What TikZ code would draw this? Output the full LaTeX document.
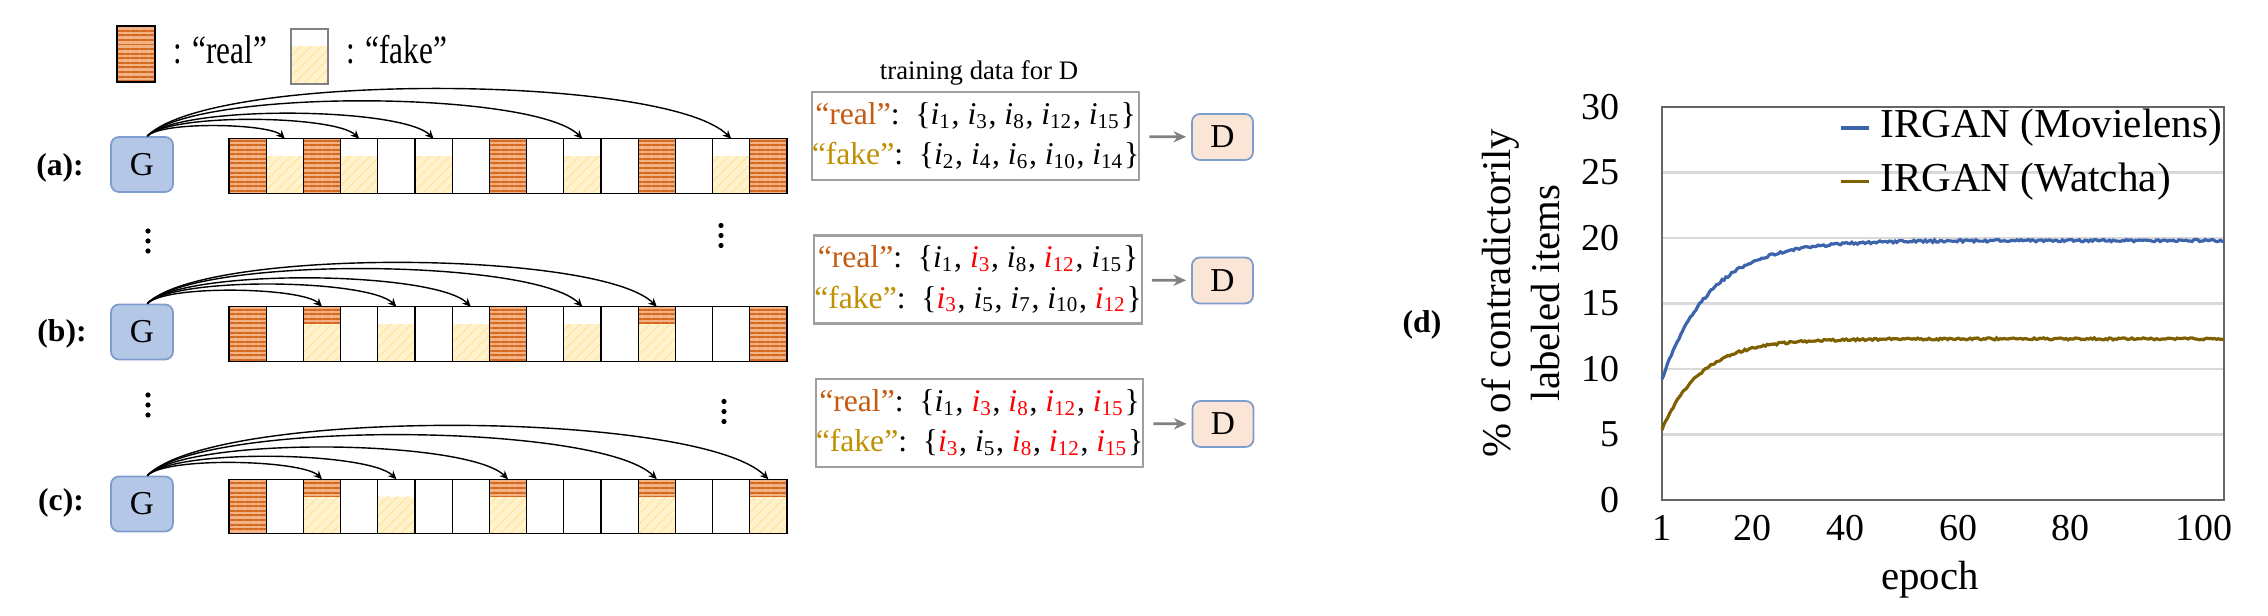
\documentclass[tikz,border=0pt]{standalone}
\usepackage{fontspec}
\setmainfont{Liberation Serif}
\usepackage{graphicx}
\usepackage{tikz}
\usetikzlibrary{arrows.meta, patterns.meta}

\definecolor{realtext}{HTML}{C55A11}
\definecolor{faketext}{HTML}{BF9000}
\definecolor{reallight}{HTML}{F4B183}
\definecolor{realdark}{HTML}{D2691E}
\definecolor{fakelight}{HTML}{FFF2CC}
\definecolor{fakeline}{HTML}{FFE49A}
\definecolor{gfill}{HTML}{B4C7E7}
\definecolor{dfill}{HTML}{FBE5D6}
\definecolor{boxedge}{HTML}{7F9CCF}
\definecolor{lensblue}{HTML}{3B64AD}
\definecolor{watchabrown}{HTML}{7F6000}
\definecolor{gridgray}{HTML}{D9D9D9}

\newcommand{\itm}[1]{\textit{i}\textsubscript{#1}}
\newcommand{\ritm}[1]{\textcolor{red}{\itm{#1}}}

\tikzset{
  realfill/.style={preaction={fill=reallight}, pattern={Lines[distance=1.3pt, line width=0.55pt]}, pattern color=realdark},
  fakefill/.style={preaction={fill=fakelight}, pattern={Lines[angle=45, distance=2pt, line width=0.3pt]}, pattern color=fakeline},
  itemcell/.style={draw, line width=0.35pt, minimum width=0.372cm, minimum height=0.545cm, inner sep=0pt, outer sep=0pt},
  emptycell/.style={},
  realcell/.style={path picture={
      \fill[realfill] (path picture bounding box.south west) rectangle (path picture bounding box.north east);}},
  fakecell/.style={path picture={
      \fill[fakefill] (path picture bounding box.south west) rectangle ([yshift=-0.175cm]path picture bounding box.north east);}},
  mixcell/.style={path picture={
      \fill[fakefill] (path picture bounding box.south west) rectangle ([yshift=-0.175cm]path picture bounding box.north east);
      \fill[realfill] ([yshift=-0.175cm]path picture bounding box.north west) rectangle (path picture bounding box.north east);}},
  gbox/.style={draw=boxedge, fill=gfill, line width=0.5pt, rounded corners=0.08cm, minimum width=0.62cm, minimum height=0.55cm, font=\fontsize{9.5}{10}\selectfont},
  dbox/.style={draw=boxedge, fill=dfill, line width=0.5pt, rounded corners=0.08cm, minimum width=0.61cm, minimum height=0.46cm, font=\fontsize{9.5}{10}\selectfont},
  databox/.style={draw=gray!75, line width=0.6pt, minimum width=3.27cm, minimum height=0.88cm, inner sep=0pt, align=center, font=\fontsize{9}{11.4}\selectfont},
  rowlab/.style={font=\fontsize{9}{10}\selectfont\bfseries},
  legtext/.style={anchor=west, font=\fontsize{11.4}{12}\selectfont},
  genarc/.style={-{Stealth[length=2.4pt, width=2.2pt]}, line width=0.4pt, out=45, in=135, looseness=0.4},
  feed/.style={-{Stealth[length=3.6pt, width=3.2pt]}, draw=gray, line width=0.8pt, shorten <=0.09cm, shorten >=0.05cm},
  ticklab/.style={font=\fontsize{10.8}{12}\selectfont},
  chartlab/.style={font=\fontsize{11.6}{14}\selectfont},
}

\begin{document}
\begin{tikzpicture}[x=0.01cm, y=0.01cm]
\useasboundingbox (0,0) rectangle (2268,616);

% legend
\node[itemcell, realcell, minimum width=0.38cm, minimum height=0.56cm] (legreal) at (136,562) {};
\node[legtext] (legrealtxt) at (161,566) {\scalebox{0.78}[1]{: “real”}};
\node[itemcell, fakecell, draw=gray, minimum width=0.37cm, minimum height=0.55cm] (legfake) at (309.5,559.5) {};
\node[legtext] (legfaketxt) at (334,566) {\scalebox{0.78}[1]{: “fake”}};

% row (a)
\node[rowlab] (laba) at (60,448) {(a):};
\node[gbox] (Ga) at (142,451.5) {G};
\foreach \i/\k in {1/realcell,2/fakecell,3/realcell,4/fakecell,5/emptycell,6/fakecell,7/emptycell,8/realcell,
                   9/emptycell,10/fakecell,11/emptycell,12/realcell,13/emptycell,14/fakecell,15/realcell}
  \node[itemcell, \k] (a\i) at ({229+(\i-0.5)*37.2}, 450) {};
\foreach \t in {2,4,6,10,14}
  \draw[genarc] ([xshift=1.5pt]Ga.north) to (a\t.north);

% row (b)
\node[rowlab] (labb) at (62,282) {(b):};
\node[gbox] (Gb) at (142,284) {G};
\foreach \i/\k in {1/realcell,2/emptycell,3/mixcell,4/emptycell,5/fakecell,6/emptycell,7/fakecell,8/realcell,
                   9/emptycell,10/fakecell,11/emptycell,12/mixcell,13/emptycell,14/emptycell,15/realcell}
  \node[itemcell, \k] (b\i) at ({229+(\i-0.5)*37.2}, 282) {};
\foreach \t in {3,5,7,10,12}
  \draw[genarc] ([xshift=1.5pt]Gb.north) to (b\t.north);

% row (c)
\node[rowlab] (labc) at (61,113) {(c):};
\node[gbox] (Gc) at (142,112) {G};
\foreach \i/\k in {1/realcell,2/emptycell,3/mixcell,4/emptycell,5/fakecell,6/emptycell,7/emptycell,8/mixcell,
                   9/emptycell,10/emptycell,11/emptycell,12/mixcell,13/emptycell,14/emptycell,15/mixcell}
  \node[itemcell, \k] (c\i) at ({229+(\i-0.5)*37.2}, 109.5) {};
\foreach \t in {3,5,8,12,15}
  \draw[genarc] ([xshift=1.5pt]Gc.north) to (c\t.north);

% vertical dots
\foreach \px/\py in {148/375, 148/211, 721/380.5, 724/204.5}
  \foreach \d in {-10,0,10}
    \fill (\px,\py+\d) circle (0.026cm);

% training data and D
\node[font=\fontsize{7.6}{9}\selectfont] (title) at (979,543) {training data for D};
\node[databox] (Ta) at (975.5,480) {{\color{realtext}“real”}:\enspace\{\itm{1}, \itm{3}, \itm{8}, \itm{12}, \itm{15}\}\\
  {\color{faketext}“fake”}:\enspace\{\itm{2}, \itm{4}, \itm{6}, \itm{10}, \itm{14}\}};
\node[databox] (Tb) at (978,336.5) {{\color{realtext}“real”}:\enspace\{\itm{1}, \ritm{3}, \itm{8}, \ritm{12}, \itm{15}\}\\
  {\color{faketext}“fake”}:\enspace\{\ritm{3}, \itm{5}, \itm{7}, \itm{10}, \ritm{12}\}};
\node[databox] (Tc) at (979.5,193) {{\color{realtext}“real”}:\enspace\{\itm{1}, \ritm{3}, \ritm{8}, \ritm{12}, \ritm{15}\}\\
  {\color{faketext}“fake”}:\enspace\{\ritm{3}, \itm{5}, \ritm{8}, \ritm{12}, \ritm{15}\}};
\node[dbox] (Da) at (1222.5,479) {D};
\node[dbox] (Db) at (1222.5,335.5) {D};
\node[dbox] (Dc) at (1223,192) {D};
\draw[feed] (Ta) -- (Da);
\draw[feed] (Tb) -- (Db);
\draw[feed] (Tc) -- (Dc);

% chart (d)
\foreach \v in {5,10,...,25}
  \draw[gridgray, line width=0.6pt] (1662,{116+13.1*\v}) -- (2224,{116+13.1*\v});
\draw[gray!80!black, line width=0.5pt] (1662,116) rectangle (2224,509);
\foreach \v in {0,5,...,30}
  \node[ticklab, anchor=east] (y\v) at (1632,{116+13.1*\v}) {\v};
\foreach \e/\px in {1/1662, 20/1752, 40/1845, 60/1958, 80/2070, 100/2204}
  \node[ticklab] (x\e) at (\px,88) {\e};
\node[chartlab] (xlab) at (1930,36) {epoch};
\node[chartlab, rotate=90, align=center] (ylab) at (1521,323) {\% of contradictorily\\labeled items};
\node[rowlab] (labd) at (1422,291) {(d)};

\pgfmathsetseed{7}
\draw[lensblue, line width=0.9pt] plot[domain=1:100, samples=300]
  ({1662+(\x-1)*5.677}, {116+13.1*(19.8-10.6*exp(-(\x-1)/8.5)+0.09*rand)});
\draw[watchabrown, line width=0.9pt] plot[domain=1:100, samples=300]
  ({1662+(\x-1)*5.677}, {116+13.1*(12.3-6.9*exp(-(\x-1)/7)+0.08*rand)});

\draw[lensblue, line width=1pt] (1841,488) -- (1869,488);
\node[legtext, font=\fontsize{11.7}{12}\selectfont] (legml) at (1868,488) {IRGAN (Movielens)};
\draw[watchabrown, line width=1pt] (1841,434.5) -- (1869,434.5);
\node[legtext, font=\fontsize{11.7}{12}\selectfont] (legwa) at (1868,434.5) {IRGAN (Watcha)};

\end{tikzpicture}
\end{document}
